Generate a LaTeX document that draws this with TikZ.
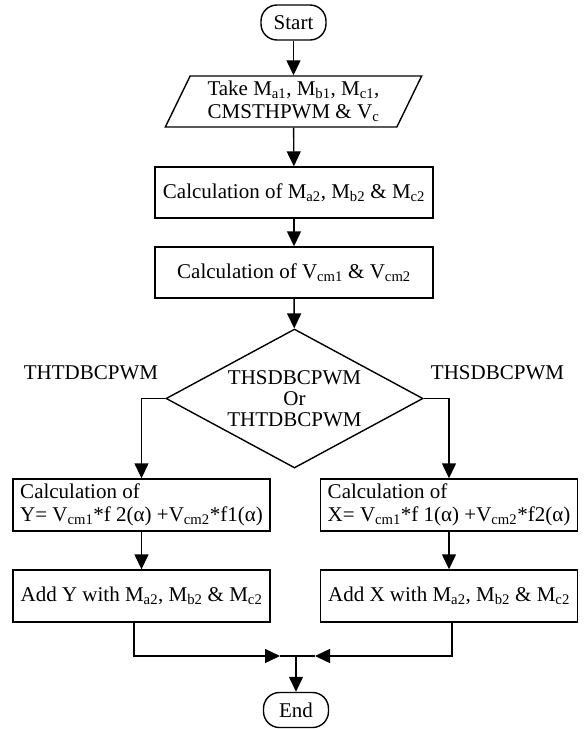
\documentclass[tikz,border=0pt]{standalone}
\usepackage{fontspec}
\setmainfont{Liberation Serif}
\usetikzlibrary{shapes.geometric,arrows.meta}
\tikzset{
  term/.style={draw, rounded corners=16pt, minimum width=65pt, minimum height=35pt, inner sep=2pt},
  io/.style={draw, trapezium, trapezium left angle=64, trapezium right angle=116, trapezium stretches=true, minimum width=257pt, minimum height=51pt, inner sep=1pt, align=center},
  box/.style={draw, minimum width=278pt, minimum height=51pt, inner sep=2pt, align=center},
  sidebox/.style={draw, minimum width=257pt, minimum height=52pt, inner sep=2pt, align=left},
  addbox/.style={draw, minimum width=257pt, minimum height=52pt, inner sep=2pt, align=center},
  decision/.style={draw, diamond, aspect=1.85, minimum width=257pt, minimum height=139pt, inner sep=0pt, align=center},
  flow/.style={-{Triangle[length=15pt,width=14pt]}}
}
\newcommand{\sub}[1]{\textsubscript{#1}}
\begin{document}
\begin{tikzpicture}[x=1pt, y=-1pt, line width=1.4pt, font={\fontsize{21}{23}\selectfont}]
  \useasboundingbox (0,0) rectangle (584,729);
  \node[term] (start) at (293.5,22.5) {Start};
  \node[io] (input) at (293.5,101.5) {Take M\sub{a1}, M\sub{b1}, M\sub{c1},\\CMSTHPWM \& V\sub{c}};
  \node[box] (calcm) at (294,192.5) {Calculation of M\sub{a2}, M\sub{b2} \& M\sub{c2}};
  \node[box] (calcv) at (294,272.5) {Calculation of V\sub{cm1} \& V\sub{cm2}};
  \node[decision] (choose) at (294.5,398.5) {THSDBCPWM\\[-2pt]Or\\[-2pt]THTDBCPWM};
  \node (ltag) at (91,373) {THTDBCPWM};
  \node (rtag) at (497.5,373) {THSDBCPWM};
  \node[sidebox] (calcy) at (141.5,505) {Calculation of\\Y= V\sub{cm1}*f 2(α) +V\sub{cm2}*f1(α)};
  \node[sidebox] (calcx) at (449,505) {Calculation of\\X= V\sub{cm1}*f 1(α) +V\sub{cm2}*f2(α)};
  \node[addbox] (addy) at (141.5,596) {Add Y with M\sub{a2}, M\sub{b2} \& M\sub{c2}};
  \node[addbox] (addx) at (449,596) {Add X with M\sub{a2}, M\sub{b2} \& M\sub{c2}};
  \node[term] (end) at (296,710) {End};
  \coordinate (join) at (296,656);
  \coordinate (lin) at (280,656);
  \coordinate (rin) at (315,656);
  % main column
  \draw[flow] (start) -- (input);
  \draw[flow] (input) -- (calcm);
  \draw[flow] (calcm) -- (calcv);
  \draw[flow] (calcv) -- (choose);
  % branches
  \draw[flow] (choose.west) -| (calcy.north);
  \draw[flow] (choose.east) -| (calcx.north);
  \draw[flow] (calcy) -- (addy);
  \draw[flow] (calcx) -- (addx);
  % merge
  \draw[flow] ([xshift=-7.5pt]addy.south) |- (lin);
  \draw[flow] ([xshift=3pt]addx.south) |- (rin);
  \draw (lin) -- (rin);
  \draw[flow] (join) -- (end);
\end{tikzpicture}
\end{document}
